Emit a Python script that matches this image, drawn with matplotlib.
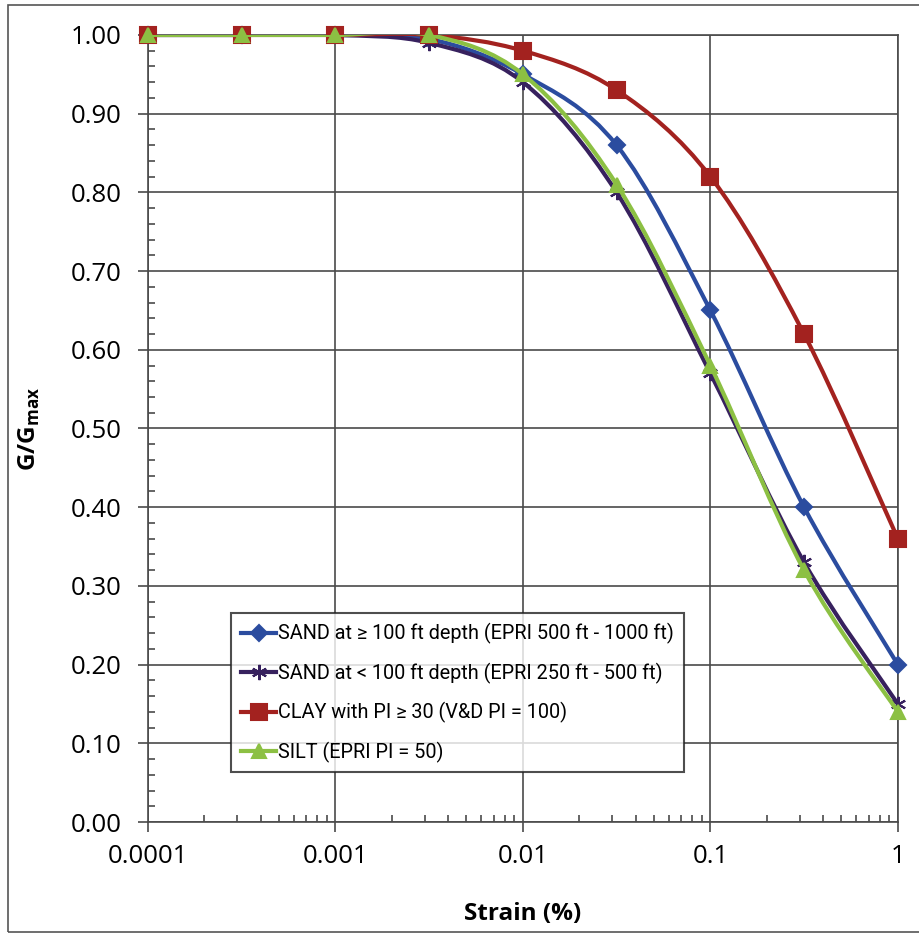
import matplotlib
matplotlib.use('Agg')
import matplotlib.pyplot as plt
import numpy as np
from matplotlib.path import Path
from matplotlib.patches import PathPatch, Rectangle
from matplotlib.lines import Line2D
from matplotlib import ticker

plt.rcParams['font.family'] = ['Open Sans', 'DejaVu Sans']

# strain (%) and G/Gmax values
strain = [0.0001, 0.000316, 0.001, 0.00316, 0.01, 0.0316, 0.1, 0.316, 1.0]
sand_deep = [1.00, 1.00, 1.00, 0.995, 0.95, 0.86, 0.65, 0.40, 0.20]
sand_shallow = [1.00, 1.00, 1.00, 0.99, 0.94, 0.80, 0.57, 0.33, 0.15]
clay = [1.00, 1.00, 1.00, 1.00, 0.98, 0.93, 0.82, 0.62, 0.36]
silt = [1.00, 1.00, 1.00, 1.00, 0.95, 0.81, 0.58, 0.32, 0.14]

labels = ['SAND at \u2265 100 ft depth (EPRI 500 ft - 1000 ft)',
          'SAND at < 100 ft depth (EPRI 250 ft - 500 ft)',
          'CLAY with PI \u2265 30 (V&D PI = 100)',
          'SILT (EPRI PI = 50)']
colors = ['#2b4c9f', '#37215e', '#a3221f', '#8cc043']
markers = ['D', (6, 2, 0), 's', '^']
msizes = [8, 11, 11, 10]
series = [sand_deep, sand_shallow, clay, silt]


def smooth_path(xs, ys):
    """Excel-like smoothed line: cubic bezier through the points (log x)."""
    u = np.log10(np.array(xs))
    v = np.array(ys)
    n = len(u)
    verts = [(xs[0], ys[0])]
    codes = [Path.MOVETO]
    for i in range(n - 1):
        i0 = max(i - 1, 0)
        i3 = min(i + 2, n - 1)
        c1u = u[i] + (u[i + 1] - u[i0]) / 6
        c1v = v[i] + (v[i + 1] - v[i0]) / 6
        c2u = u[i + 1] - (u[i3] - u[i]) / 6
        c2v = v[i + 1] - (v[i3] - v[i]) / 6
        verts += [(10 ** c1u, c1v), (10 ** c2u, c2v), (xs[i + 1], ys[i + 1])]
        codes += [Path.CURVE4] * 3
    return Path(verts, codes)


fig = plt.figure(figsize=(9.19, 9.40), dpi=100)
ax = fig.add_axes([0.161, 0.1255, 0.816, 0.8373])

grid_c = '#4a4a4a'
handles = []
for i in range(4):
    patch = PathPatch(smooth_path(strain, series[i]), fill=False, edgecolor=colors[i],
                      lw=3, zorder=3 + i, capstyle='round', joinstyle='round')
    ax.add_patch(patch)
    ax.plot(strain, series[i], linestyle='none', marker=markers[i], markersize=msizes[i],
            color=colors[i], markeredgecolor=colors[i], markeredgewidth=1.5, zorder=3 + i,
            clip_on=False)
    handles.append(Line2D([], [], color=colors[i], lw=3, marker=markers[i],
                          markersize=msizes[i], markeredgewidth=1.5))

ax.set_xscale('log')
ax.set_xlim(0.0001, 1)
ax.set_ylim(0, 1)
ax.set_xticks([0.0001, 0.001, 0.01, 0.1, 1])
ax.set_xticklabels(['0.0001', '0.001', '0.01', '0.1', '1'])
ax.xaxis.set_minor_locator(ticker.LogLocator(base=10, subs=np.arange(2, 10)))
ax.xaxis.set_minor_formatter(ticker.NullFormatter())
ax.set_yticks(np.arange(0, 1.01, 0.1))
ax.yaxis.set_major_formatter(ticker.FormatStrFormatter('%.2f'))
ax.yaxis.set_minor_locator(ticker.MultipleLocator(0.02))

ax.grid(True, which='major', color=grid_c, lw=1.2)
ax.set_axisbelow(True)
for s in ax.spines.values():
    s.set_color(grid_c)
    s.set_linewidth(1.2)
ax.tick_params(which='major', direction='out', length=7, width=1.2, color=grid_c, labelsize=18.5)
ax.tick_params(axis='x', which='major', pad=9)
ax.tick_params(axis='y', which='major', pad=12)
ax.tick_params(which='minor', direction='in', length=5, width=1.2, color=grid_c)

ax.set_xlabel('Strain (%)', fontsize=17.5, fontweight='bold')
ax.xaxis.set_label_coords(0.499, -0.102)
ax.set_ylabel('G/G$_{\\mathregular{max}}$', fontsize=17.5, fontweight='bold')
ax.yaxis.set_label_coords(-0.141, 0.5)

leg = ax.legend(handles, labels, loc='lower left', bbox_to_anchor=(0.111, 0.063),
                prop={'family': ['Roboto', 'DejaVu Sans'], 'size': 14.3},
                frameon=True, fancybox=False, edgecolor='#222222',
                handlelength=1.75, handletextpad=0.1, labelspacing=0.92, borderpad=0.5,
                borderaxespad=0)
leg.get_frame().set_linewidth(1.5)
leg.set_zorder(10)

# outer chart border
fig.patches.append(Rectangle((0.0087, 0.0085), 1.05, 0.9862, transform=fig.transFigure,
                             fill=False, edgecolor='#555555', lw=1.2))

plt.savefig('out.png', dpi=100)
